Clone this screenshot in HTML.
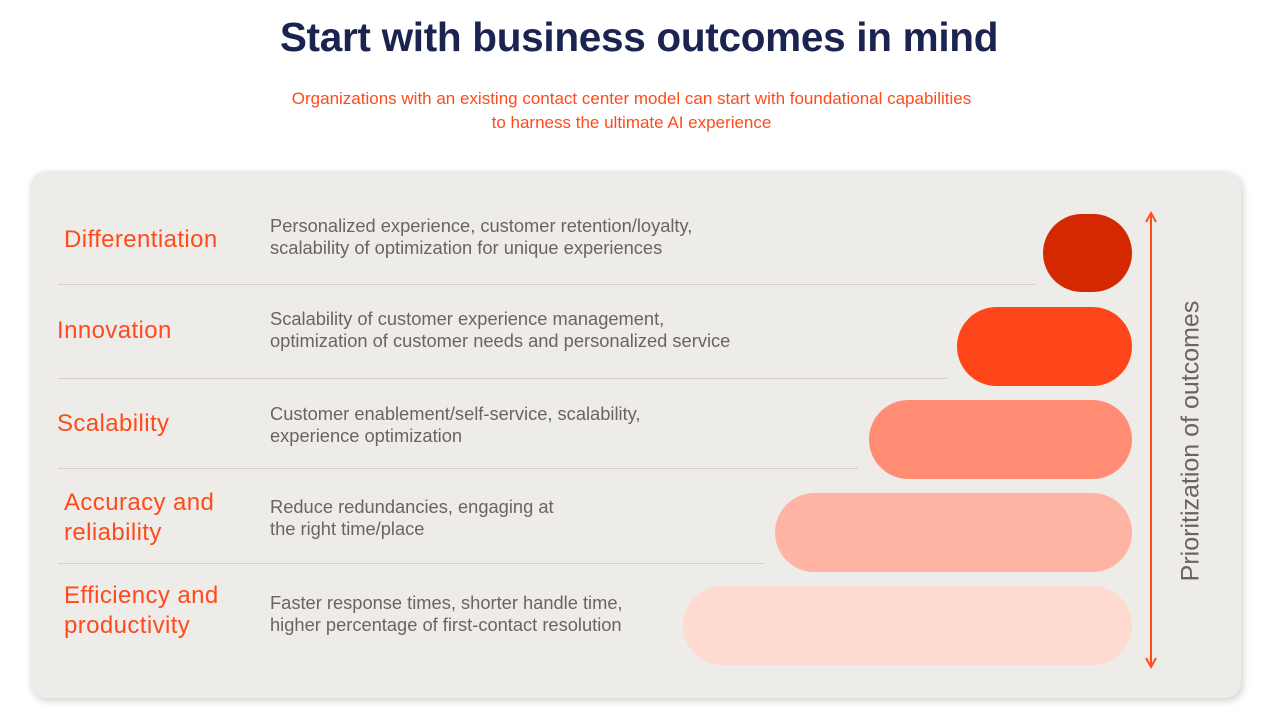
<!DOCTYPE html>
<html><head><meta charset="utf-8"><style>
body{margin:0;width:1265px;height:723px;background:#fff;font-family:"Liberation Sans",sans-serif;position:relative;overflow:hidden}
.a{position:absolute;white-space:nowrap}
h1{position:absolute;top:14px;left:0;width:1278px;margin:0;text-align:center;font-size:40.5px;font-weight:bold;color:#1b2450;letter-spacing:-0.3px}
.sub{position:absolute;top:87px;left:0;width:1263px;text-align:center;font-size:17px;line-height:24px;color:#ff4a1c}
.card{position:absolute;left:30px;top:171px;width:1211px;height:527px;background:#eeece8;border-radius:16px;box-shadow:2px 3px 8px rgba(0,0,0,0.18)}
.lab{position:absolute;font-size:24px;line-height:30px;color:#ff4a1c;letter-spacing:0.4px;white-space:nowrap}
.desc{position:absolute;left:270px;font-size:18.3px;line-height:22px;color:#6b6460;white-space:nowrap}
.ln{position:absolute;left:58px;height:1px;background:#d6cfc4}
.pill{position:absolute;right:133px;height:79px;border-radius:40px}
</style></head><body>
<h1>Start with business outcomes in mind</h1>
<div class="sub">Organizations with an existing contact center model can start with foundational capabilities<br>to harness the ultimate AI experience</div>
<div class="card"></div>
<div class="lab" style="left:64px;top:225px">Differentiation</div>
<div class="lab" style="left:57px;top:316px">Innovation</div>
<div class="lab" style="left:57px;top:409px">Scalability</div>
<div class="lab" style="left:64px;top:488px">Accuracy and<br>reliability</div>
<div class="lab" style="left:64px;top:581px">Efficiency and<br>productivity</div>
<div class="desc" style="top:215px">Personalized experience, customer retention/loyalty,<br>scalability of optimization for unique experiences</div>
<div class="desc" style="top:308px">Scalability of customer experience management,<br>optimization of customer needs and personalized service</div>
<div class="desc" style="top:403px">Customer enablement/self-service, scalability,<br>experience optimization</div>
<div class="desc" style="top:496px">Reduce redundancies, engaging at<br>the right time/place</div>
<div class="desc" style="top:592px">Faster response times, shorter handle time,<br>higher percentage of first-contact resolution</div>
<div class="ln" style="top:284px;width:977px"></div>
<div class="ln" style="top:378px;width:889px"></div>
<div class="ln" style="top:468px;width:800px"></div>
<div class="ln" style="top:563px;width:706px"></div>
<div class="pill" style="top:214px;width:89px;height:78px;background:#d42800"></div>
<div class="pill" style="top:307px;width:175px;background:#ff461b"></div>
<div class="pill" style="top:400px;width:263px;background:#ff8c73"></div>
<div class="pill" style="top:493px;width:357px;background:#ffb3a2"></div>
<div class="pill" style="top:586px;width:449px;background:#ffdad0"></div>
<svg class="a" style="left:1140px;top:210px" width="22" height="460">
<line x1="11" y1="4" x2="11" y2="456" stroke="#ff4a1c" stroke-width="2"/>
<path d="M6 12 L11 3 L16 12" fill="none" stroke="#ff4a1c" stroke-width="2"/>
<path d="M6 448 L11 457 L16 448" fill="none" stroke="#ff4a1c" stroke-width="2"/>
</svg>
<div class="a" style="left:1191px;top:441px;transform:translate(-50%,-50%) rotate(-90deg);font-size:25px;color:#6b6460">Prioritization of outcomes</div>
</body></html>
